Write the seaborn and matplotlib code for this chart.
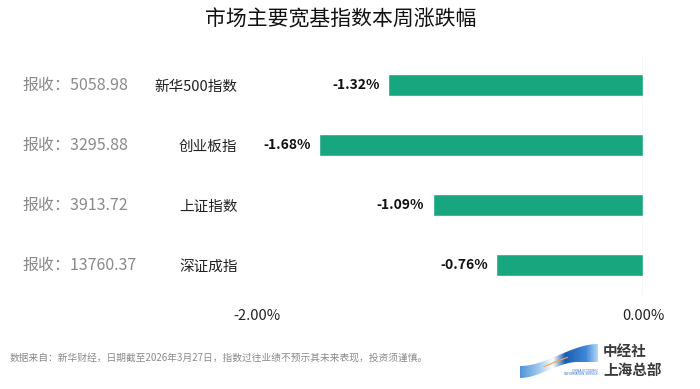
import numpy as np
import matplotlib
matplotlib.use("Agg")
import matplotlib.pyplot as plt
import matplotlib.transforms as mtransforms
from matplotlib.patches import Polygon
from matplotlib.colors import LinearSegmentedColormap
import seaborn as sns

# =========================
# DATA
# =========================
names = ["新华500指数", "创业板指", "上证指数", "深证成指"]
changes = [-1.32, -1.68, -1.09, -0.76]
closes = ["5058.98", "3295.88", "3913.72", "13760.37"]
x_ticks = [-2.0, 0.0]

title = "市场主要宽基指数本周涨跌幅"
source = "数据来自：新华财经，日期截至2026年3月27日，指数过往业绩不预示其未来表现，投资须谨慎。"

bar_color = "#18a67f"

# =========================
# STYLE
# =========================
sns.set_style("white")
plt.rcParams["font.family"] = ["Noto Sans CJK SC", "DejaVu Sans"]

fig = plt.figure(figsize=(7, 3.89), dpi=100)
ax = fig.add_axes([257 / 700, 1 - 295 / 389, (643 - 257) / 700, 240 / 389])

sns.barplot(x=changes, y=names, orient="h", color=bar_color,
            saturation=1, width=0.37, ax=ax)

ax.set_xlim(-2, 0)
ax.set_ylim(3.5, -0.5)
ax.axvline(0, color="#d4d4d4", lw=1, zorder=0)
sns.despine(ax=ax, left=True, bottom=True)

ax.set_xticks(x_ticks)
ax.set_xticklabels([f"{v:.2f}%" for v in x_ticks], fontsize=10.5, color="#222222")
ax.tick_params(axis="x", length=0, pad=10)
ax.tick_params(axis="y", length=0, pad=14, labelsize=10.5, labelcolor="#222222")
ax.set_xlabel("")
ax.set_ylabel("")

# value labels
for i, v in enumerate(changes):
    ax.annotate(f"{v:.2f}%", xy=(v, i), xytext=(-6, 0), textcoords="offset points",
                ha="right", va="center", fontsize=10, fontweight="bold",
                color="#111111", annotation_clip=False)

# closing prices on the left
trans = mtransforms.blended_transform_factory(fig.transFigure, ax.transData)
for i, c in enumerate(closes):
    ax.text(22 / 700, i, f"报收：{c}", transform=trans, ha="left", va="center",
            fontsize=11.5, color="#8a8a8a")

# title and source
fig.text(0.487, 1 - 19 / 389, title, ha="center", va="center", fontsize=15, color="#111111")
fig.text(10 / 700, 1 - 358 / 389, source, ha="left", va="center", fontsize=7, color="#8a8a8a")

# =========================
# LOGO
# =========================
lax = fig.add_axes([520 / 700, 1 - 380 / 389, 80 / 700, 38 / 389])
lax.axis("off")

t = np.linspace(0, 1, 60)
s = 3 * t**2 - 2 * t**3
t2 = np.clip(t * 1.35, 0, 1)
s2 = 3 * t2**2 - 2 * t2**3
xs = 78 * t
upper = 24 - 22 * s
lower = 36 - 16 * s2
band = Polygon(np.column_stack([np.r_[xs, xs[::-1]], np.r_[upper, lower[::-1]]]),
               closed=True, facecolor="none", edgecolor="none")
lax.add_patch(band)

logo_cmap = LinearSegmentedColormap.from_list(
    "logo", [(0.0, "#4f93d8"), (0.25, "#a6cdf0"), (0.42, "#ffffff"),
             (0.58, "#1c5cb3"), (0.85, "#3f88d6"), (1.0, "#b3d9f5")])
grad = np.linspace(0, 1, 200).reshape(1, -1)
img = lax.imshow(grad, cmap=logo_cmap, extent=[0, 78, 38, 0], aspect="auto")
img.set_clip_path(band)
lax.set_xlim(0, 80)
lax.set_ylim(38, 0)

mid = (t > 0.3) & (t < 0.62)
lax.plot(xs[mid], (upper[mid] + lower[mid]) / 2, color="#f2a43a", lw=0.8)

lax.text(78, 28.5, "CHINA ECONOMIC", fontsize=2.2, color="#2d6fc0", ha="right", va="center",
         family="DejaVu Sans")
lax.text(78, 32, "INFORMATION SERVICE", fontsize=2.2, color="#2d6fc0", ha="right", va="center",
         family="DejaVu Sans")

fig.text(603 / 700, 1 - 351 / 389, "中经社", ha="left", va="center", fontsize=10.5,
         fontweight="bold", color="#3a3a3a")
fig.text(603 / 700, 1 - 370 / 389, "上海总部", ha="left", va="center", fontsize=10.5,
         fontweight="bold", color="#3a3a3a")

plt.savefig("out.png", dpi=100)
